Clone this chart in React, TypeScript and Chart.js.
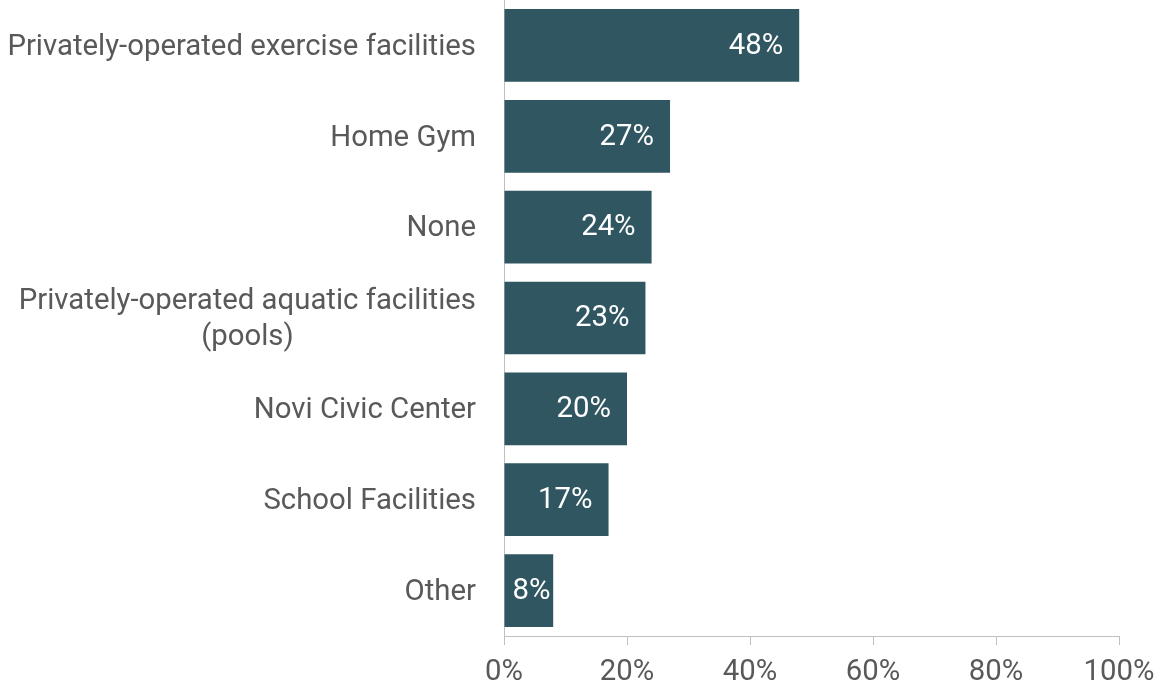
import React, { useEffect, useRef } from "react";
import { Chart, registerables } from "chart.js";

Chart.register(...registerables);

const categories: (string | string[])[] = [
  "Privately-operated exercise facilities",
  "Home Gym",
  "None",
  ["Privately-operated aquatic facilities", "(pools)"],
  "Novi Civic Center",
  "School Facilities",
  "Other",
];
const values = [48, 27, 24, 23, 20, 17, 8];
const xTicks = [0, 20, 40, 60, 80, 100];

const FONT = "Roboto, 'Noto Sans', sans-serif";
const SIZE = 29.33;
const LINE_H = 36;
const BAR = "#2f5661";
const LABEL = "#595959";
const AXIS = "#bfbfbf";

const dataLabels = {
  id: "dataLabels",
  afterDatasetsDraw(chart: any) {
    const ctx = chart.ctx;
    const meta = chart.getDatasetMeta(0);
    ctx.save();
    ctx.font = `${SIZE}px ${FONT}`;
    ctx.fillStyle = "#ffffff";
    ctx.textBaseline = "middle";
    ctx.textAlign = "left";
    meta.data.forEach((bar: any, i: number) => {
      const txt = `${values[i]}%`;
      const w = ctx.measureText(txt).width;
      const left = Math.max(bar.base + 8, bar.x - 16 - w);
      ctx.fillText(txt, left, bar.y + 1);
    });
    ctx.restore();
  },
};

// Category labels: right-aligned block, multi-line labels centred within block
const categoryLabels = {
  id: "categoryLabels",
  afterDraw(chart: any) {
    const ctx = chart.ctx;
    const y = chart.scales.y;
    const right = y.right - 28;
    ctx.save();
    ctx.font = `${SIZE}px ${FONT}`;
    ctx.fillStyle = LABEL;
    ctx.textBaseline = "middle";
    categories.forEach((lab, i) => {
      const lines = Array.isArray(lab) ? lab : [lab];
      const widths = lines.map((l) => ctx.measureText(l).width);
      const maxW = Math.max(...widths);
      const center = right - maxW / 2;
      const cy = y.getPixelForTick(i) + 2;
      const top = cy - ((lines.length - 1) * LINE_H) / 2;
      ctx.textAlign = "center";
      lines.forEach((l, k) => {
        ctx.fillText(l, center, top + k * LINE_H);
      });
    });
    ctx.restore();
  },
};

export default function App() {
  const ref = useRef<HTMLCanvasElement>(null);
  useEffect(() => {
    document.body.style.margin = "0";
    const chart = new Chart(ref.current!, {
      type: "bar",
      data: {
        labels: categories,
        datasets: [
          {
            data: values,
            backgroundColor: BAR,
            categoryPercentage: 0.8,
            barPercentage: 1,
          },
        ],
      },
      options: {
        indexAxis: "y",
        animation: false,
        responsive: false,
        maintainAspectRatio: false,
        layout: { padding: { top: 0, right: 45, bottom: 0, left: 0 } },
        plugins: { legend: { display: false }, tooltip: { enabled: false } },
        scales: {
          x: {
            min: 0,
            max: 100,
            afterFit: (s: any) => {
              s.height = 54;
              s.paddingLeft = 0;
              s.paddingRight = 0;
            },
            afterBuildTicks: (s: any) => {
              s.ticks = xTicks.map((v) => ({ value: v }));
            },
            grid: {
              drawOnChartArea: false,
              drawTicks: true,
              tickLength: 9,
              color: AXIS,
            },
            border: { display: true, color: AXIS, width: 1 },
            ticks: {
              padding: 10,
              color: LABEL,
              font: { family: FONT, size: SIZE },
              maxRotation: 0,
              callback: (v: any) => `${v}%`,
            },
          },
          y: {
            afterFit: (s: any) => {
              s.width = 504;
              s.paddingTop = 0;
              s.paddingBottom = 0;
            },
            grid: { display: false, drawTicks: false, tickLength: 0 },
            border: { display: true, color: AXIS, width: 1 },
            ticks: { display: false },
          },
        },
      },
      plugins: [dataLabels, categoryLabels],
    });
    return () => chart.destroy();
  }, []);
  return <canvas ref={ref} width={1164} height={690} style={{ display: "block" }} />;
}
